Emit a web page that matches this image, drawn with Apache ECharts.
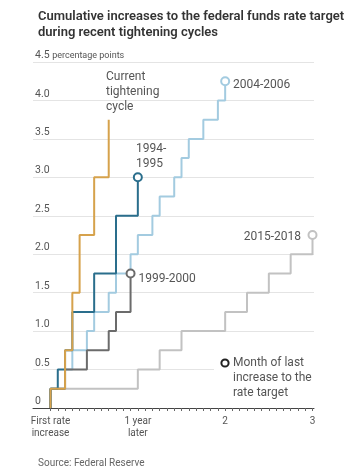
<!DOCTYPE html>
<html><head><meta charset="utf-8">
<script src="https://cdn.jsdelivr.net/npm/echarts@6/dist/echarts.min.js"></script>
<style>html,body{margin:0;padding:0;background:#fff}#c{width:348px;height:471px}</style>
</head><body><div id="c"></div>
<script>
// ---- data (months after first increase, cumulative increase in percentage points)
const currentMonths = [0, 0, 2, 3, 4, 6, 8];
const currentValues = [0, 0.25, 0.75, 1.5, 2.25, 3.0, 3.75];
const c1994Months = [0, 0, 1, 2, 3, 6, 9, 12];
const c1994Values = [0, 0.25, 0.5, 0.75, 1.25, 1.75, 2.5, 3.0];
const c1999Months = [0, 0, 2, 5, 8, 9, 11];
const c1999Values = [0, 0.25, 0.5, 0.75, 1.0, 1.25, 1.75];
const c2004Months = [0, 0, 2, 3, 5, 6, 8, 9, 11, 12, 14, 15, 17, 18, 19, 21, 23, 24];
const c2004Values = [0, 0.25, 0.5, 0.75, 1.0, 1.25, 1.5, 1.75, 2.0, 2.25, 2.5, 2.75, 3.0, 3.25, 3.5, 3.75, 4.0, 4.25];
const c2015Months = [0, 0, 12, 15, 18, 24, 27, 30, 33, 36];
const c2015Values = [0, 0.25, 0.5, 0.75, 1.0, 1.25, 1.5, 1.75, 2.0, 2.25];
const xTickLabels = {0: 'First rate\nincrease', 12: '1 year\nlater', 24: '2', 36: '3'};
const yTickValues = [0, 0.5, 1.0, 1.5, 2.0, 2.5, 3.0, 3.5, 4.0, 4.5];
const titleText = 'Cumulative increases to the federal funds rate target\nduring recent tightening cycles';
const sourceText = 'Source: Federal Reserve';

const FONT = 'Roboto, "Noto Sans", sans-serif';
const pairs = (m, v) => m.map((x, i) => [x, v[i]]);

const seriesDefs = [
  {name: '2015-2018', m: c2015Months, v: c2015Values, color: '#c2c2c2', end: true},
  {name: '2004-2006', m: c2004Months, v: c2004Values, color: '#a3cbe0', end: true},
  {name: '1999-2000', m: c1999Months, v: c1999Values, color: '#6b6b6b', end: true},
  {name: '1994-1995', m: c1994Months, v: c1994Values, color: '#2a6e8c', end: true},
  {name: 'Current tightening cycle', m: currentMonths, v: currentValues, color: '#d6a24c', end: false}
];

const series = [];
seriesDefs.forEach((d, i) => {
  series.push({
    type: 'line', name: d.name, xAxisIndex: 1, yAxisIndex: 1,
    data: pairs(d.m, d.v), step: 'end', symbol: 'none',
    lineStyle: {color: d.color, width: 2}, z: 2 + i, animation: false
  });
});
seriesDefs.forEach((d, i) => {
  if (!d.end) return;
  const n = d.m.length - 1;
  series.push({
    type: 'scatter', xAxisIndex: 1, yAxisIndex: 1,
    data: [[d.m[n], d.v[n]]], symbol: 'circle', symbolSize: 8,
    itemStyle: {color: '#fff', borderColor: d.color, borderWidth: 2, opacity: 1},
    z: 10, animation: false
  });
});

const labelStyle = {font: '12px ' + FONT, fill: '#555'};
const option = {
  animation: false,
  title: [
    {text: titleText, left: 33, top: 3,
     textStyle: {fontFamily: FONT, fontSize: 13, fontWeight: 600, color: '#333', lineHeight: 16.5}},
    {text: sourceText, left: 33, top: 453,
     textStyle: {fontFamily: FONT, fontSize: 10, fontWeight: 'normal', color: '#666'}}
  ],
  grid: [
    {left: 33, right: 34, top: 62, bottom: 63},
    {left: 50.5, right: 35.5, top: 62, bottom: 63}
  ],
  xAxis: [
    {type: 'value', gridIndex: 0, min: -2.4, max: 36.35,
     axisLine: {show: true, onZero: false, lineStyle: {color: '#444', width: 1}},
     axisTick: {show: false}, axisLabel: {show: false}, splitLine: {show: false}},
    {type: 'value', gridIndex: 1, min: 0, max: 36, interval: 1,
     axisLine: {show: false}, splitLine: {show: false},
     axisTick: {show: true, length: 3, lineStyle: {color: '#666', width: 1}},
     axisLabel: {show: true, margin: 7, fontFamily: FONT, fontSize: 10, lineHeight: 12.5, color: '#555',
       showMinLabel: true, showMaxLabel: true,
       formatter: v => (xTickLabels[v] !== undefined ? xTickLabels[v] : '')}}
  ],
  yAxis: [
    {type: 'value', gridIndex: 0, min: 0, max: 4.5, interval: 0.5,
     axisLine: {show: false}, axisTick: {show: false},
     splitLine: {show: true, lineStyle: {color: '#e4e4e4', width: 1}},
     axisLabel: {inside: true, margin: 2, verticalAlign: 'bottom', padding: [0, 0, 1, 0],
       fontFamily: FONT, fontSize: 10.5, color: '#555',
       formatter: v => {
         if (yTickValues.indexOf(v) < 0) return '';
         if (v === 0) return '0';
         if (v === 4.5) return '4.5 {u|percentage points}';
         return v.toFixed(1);
       },
       rich: {u: {fontFamily: FONT, fontSize: 9, color: '#555'}}}},
    {type: 'value', gridIndex: 1, min: 0, max: 4.5, show: false}
  ],
  graphic: [
    {type: 'rect', shape: {x: 214, y: 353, width: 104, height: 50}, style: {fill: '#fff'}, z: 1},
    {type: 'text', left: 106, top: 69, style: Object.assign({text: 'Current\ntightening\ncycle', lineHeight: 15}, labelStyle), z: 20},
    {type: 'text', left: 136, top: 141.5, style: Object.assign({text: '1994-\n1995', lineHeight: 15}, labelStyle), z: 20},
    {type: 'text', left: 233, top: 77.5, style: Object.assign({text: '2004-2006', lineHeight: 15}, labelStyle), z: 20},
    {type: 'text', left: 138.5, top: 271.5, style: Object.assign({text: '1999-2000', lineHeight: 15}, labelStyle), z: 20},
    {type: 'text', right: 47, top: 229.5, style: Object.assign({text: '2015-2018', lineHeight: 15}, labelStyle), z: 20},
    {type: 'circle', shape: {cx: 225, cy: 363, r: 3.6}, style: {fill: '#fff', stroke: '#222', lineWidth: 2}, z: 20},
    {type: 'text', left: 233, top: 355, style: Object.assign({text: 'Month of last\nincrease to the\nrate target', lineHeight: 15}, labelStyle), z: 20}
  ],
  series: series
};
const chart = echarts.init(document.getElementById('c'), null, {renderer: 'canvas'});
chart.setOption(option);
</script></body></html>
